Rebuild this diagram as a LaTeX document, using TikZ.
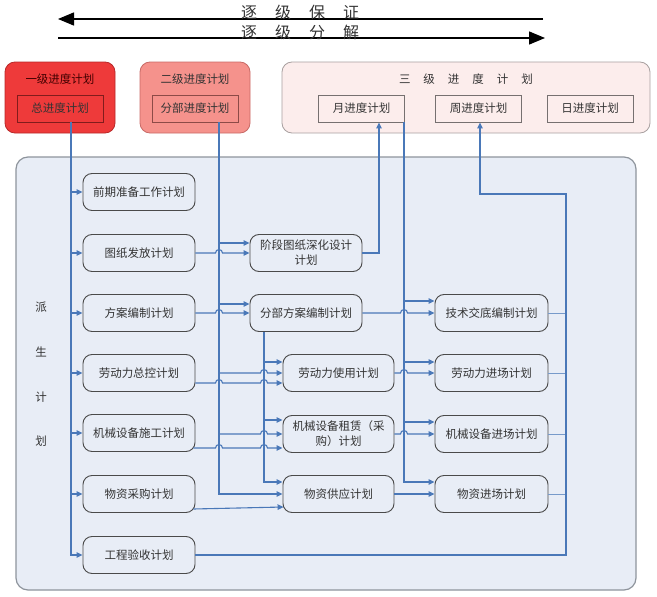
\documentclass[tikz,border=0pt]{standalone}
\usepackage{fontspec}
\newfontfamily\cjk{Noto Sans CJK SC}
\usetikzlibrary{arrows.meta}
\definecolor{lineblue}{HTML}{4A78B8}
\definecolor{bgfill}{HTML}{E8EDF6}
\definecolor{nodeborder}{HTML}{4A4A4A}
\definecolor{contborder}{HTML}{8E949C}
\definecolor{boxA}{HTML}{EE3A3A}
\definecolor{boxAb}{HTML}{B82828}
\definecolor{boxB}{HTML}{F5928C}
\definecolor{boxBb}{HTML}{C86A66}
\definecolor{boxC}{HTML}{FCEDEC}
\definecolor{boxCb}{HTML}{A8A0A0}
\definecolor{txt}{HTML}{333333}
\def\hop#1#2{-- ({#1-3.5},#2) arc[start angle=180,end angle=360,radius=3.5]}
\begin{document}
\begin{tikzpicture}[x=1pt,y=-1pt,
 plan/.style={draw=nodeborder, line width=0.9pt, fill=bgfill, rounded corners=9pt, minimum width=112pt, minimum height=37pt, inner sep=1pt, align=center, text=txt, font=\cjk\fontsize{11.5}{15}\selectfont},
 subbox/.style={draw=#1, line width=0.9pt, minimum width=86pt, minimum height=27pt, inner sep=1pt, text=txt, font=\cjk\fontsize{11.5}{14}\selectfont},
 levelbox/.style={draw=#1, line width=0.8pt, rounded corners=10pt, minimum height=71pt, inner sep=0pt},
 title/.style={text=txt, font=\cjk\fontsize{11.5}{14}\selectfont, inner sep=0pt},
 conn/.style={draw=lineblue, line width=1.1pt, -{Triangle[length=6pt,width=5.5pt]}},
 feed/.style={draw=lineblue!75, line width=0.7pt},
 big/.style={line width=1.5pt, -{Triangle[length=16pt,width=13pt]}},
 bigtext/.style={text=txt, font=\cjk\fontsize{16}{18}\selectfont, inner sep=0pt},
]
\useasboundingbox (0,0) rectangle (657,597);

% top arrows
\coordinate (a1r) at (543,19);
\coordinate (a1l) at (58,19);
\coordinate (a2l) at (58,38);
\coordinate (a2r) at (545,38);
\draw[big] (a1r) -- (a1l);
\draw[big] (a2l) -- (a2r);
\node[bigtext] (bz) at (300,12) {逐\hspace{18pt}级\hspace{18pt}保\hspace{18pt}证};
\node[bigtext] (fj) at (300,32) {逐\hspace{18pt}级\hspace{18pt}分\hspace{18pt}解};

% level boxes
\node[levelbox=boxAb, fill=boxA, minimum width=110pt] (lv1) at (60,97.5) {};
\node[levelbox=boxBb, fill=boxB, minimum width=110pt] (lv2) at (195,97.5) {};
\node[levelbox=boxCb, fill=boxC, minimum width=368pt] (lv3) at (466,97.5) {};
\node[title, text=black!75!red] (t1) at (60,79) {一级进度计划};
\node[title] (t2t) at (195,79) {二级进度计划};
\node[title] (t3t) at (466,79) {三\hspace{13pt}级\hspace{13pt}进\hspace{13pt}度\hspace{13pt}计\hspace{13pt}划};
\node[subbox=boxAb!70!black] (zong) at (60,108.5) {总进度计划};
\node[subbox=boxBb!70!black] (fenbu) at (195,108.5) {分部进度计划};
\node[subbox=boxCb!70!black] (yue) at (361.5,108.5) {月进度计划};
\node[subbox=boxCb!70!black] (zhou) at (478.5,108.5) {周进度计划};
\node[subbox=boxCb!70!black] (ri) at (590,108.5) {日进度计划};

% container
\node[draw=contborder, line width=1.2pt, fill=bgfill, rounded corners=12pt, minimum width=620pt, minimum height=433pt, inner sep=0pt] (cont) at (326,373.5) {};
\node[title] (p1) at (41,307) {派};
\node[title] (p2) at (41,352) {生};
\node[title] (p3) at (41,397) {计};
\node[title] (p4) at (41,441) {划};

% left column
\node[plan] (qq) at (139,192) {前期准备工作计划};
\node[plan] (tz) at (139,253) {图纸发放计划};
\node[plan] (fa) at (139,313) {方案编制计划};
\node[plan] (ld) at (139,373) {劳动力总控计划};
\node[plan] (jx) at (139,433) {机械设备施工计划};
\node[plan] (wz) at (139,494) {物资采购计划};
\node[plan] (gc) at (139,555) {工程验收计划};
% middle
\node[plan] (jd) at (306,253) {阶段图纸深化设计\\计划};
\node[plan] (fbfa) at (306,313) {分部方案编制计划};
\node[plan, minimum width=111pt] (ldsy) at (338.5,373) {劳动力使用计划};
\node[plan, minimum width=111pt] (jxzl) at (338.5,434) {机械设备租赁（采\\购）计划};
\node[plan, minimum width=111pt] (wzgy) at (338.5,494) {物资供应计划};
% right
\node[plan, minimum width=113pt] (jsjd) at (491.5,313) {技术交底编制计划};
\node[plan, minimum width=113pt] (ldjc) at (491.5,373) {劳动力进场计划};
\node[plan, minimum width=113pt] (jxjc) at (491.5,434) {机械设备进场计划};
\node[plan, minimum width=113pt] (wzjc) at (491.5,494) {物资进场计划};

% trunk coordinates
\coordinate (tk1) at ([xshift=11pt]zong.south);
\coordinate (tk2) at ([xshift=24pt]fenbu.south);
\coordinate (tk3) at ([xshift=-42pt]fbfa.south);
\coordinate (tk4) at ([xshift=42.5pt]yue.south);
\coordinate (rr) at (566,194);

% trunk 1
\foreach \n in {qq,tz,fa,ld,jx,wz,gc} \draw[conn] (tk1) |- (\n.west);

% trunk 2
\draw[conn] (tk2) |- ([yshift=10pt]jd.west);
\draw[conn] (tk2) |- ([yshift=9pt]fbfa.west);
\draw[conn] (tk2) -- (tk2 |- ldsy.west) \hop{264}{373} -- (ldsy.west);
\draw[conn] (tk2) -- (tk2 |- jxzl.west) \hop{264}{434} -- (jxzl.west);
\draw[conn] (tk2) |- (wzgy.west);

% left to middle
\draw[conn] (tz.east) \hop{219}{253} -- (jd.west);
\draw[conn] (fa.east) \hop{219}{313} -- (fbfa.west);
\draw[conn] ([yshift=-10pt]ld.east) \hop{219}{383} \hop{264}{383} -- ([yshift=-10pt]ldsy.west);
\draw[conn] ([xshift=-2pt,yshift=-15pt]jx.east) \hop{219}{448} \hop{264}{448} -- ([yshift=-14pt]jxzl.west);
\draw[conn] ([xshift=-2pt,yshift=-15pt]wz.east) -- ([xshift=1pt,yshift=-13pt]wzgy.west);

% trunk 3
\draw[conn] (tk3) |- ([yshift=11pt]ldsy.west);
\draw[conn] (tk3) |- ([yshift=14pt]jxzl.west);
\draw[conn] (tk3) |- ([yshift=12pt]wzgy.west);

% to month plan
\draw[conn] (jd.east) -| ([xshift=17.5pt]yue.south);

% trunk 4
\draw[conn] (tk4) |- ([yshift=12pt]jsjd.west);
\draw[conn] (tk4) |- ([yshift=11pt]ldjc.west);
\draw[conn] (tk4) |- ([yshift=12pt]jxjc.west);
\draw[conn] (tk4) |- ([yshift=12pt]wzjc.west);

% middle to right
\draw[conn] (fbfa.east) \hop{404}{313} -- (jsjd.west);
\draw[conn] (ldsy.east) \hop{404}{373} -- (ldjc.west);
\draw[conn] (jxzl.east) \hop{404}{434} -- (jxjc.west);
\draw[conn] (wzgy.east) -- (wzjc.west);

% right to feed line
\foreach \n in {jsjd,ldjc,jxjc,wzjc} \draw[feed] (\n.east) -- (\n.east -| rr);
\draw[conn] (gc.east) -| (rr) -| ([xshift=1.5pt]zhou.south);
\end{tikzpicture}
\end{document}
